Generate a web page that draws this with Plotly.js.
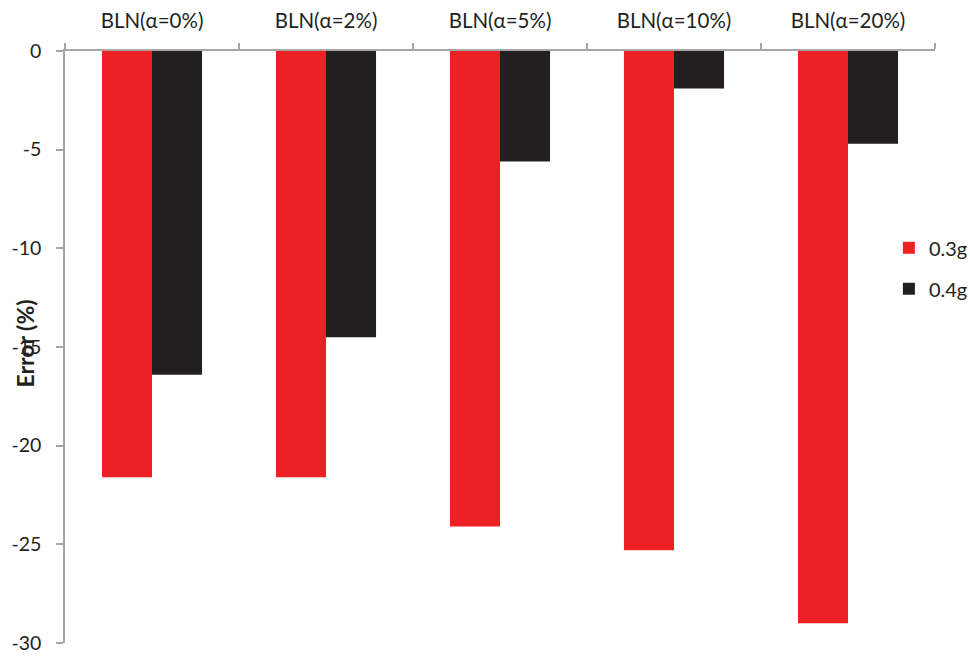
<!DOCTYPE html>
<html><head><meta charset="utf-8">
<script src="https://cdn.plot.ly/plotly-3.0.1.min.js"></script>
<style>html,body{margin:0;padding:0;background:#fff}#c{width:970px;height:657px}</style>
</head><body><div id="c"></div>
<script>
const categories = ["BLN(α=0%)", "BLN(α=2%)", "BLN(α=5%)", "BLN(α=10%)", "BLN(α=20%)"];
const seriesNames = ["0.3g", "0.4g"];
const values03g = [-21.6, -21.6, -24.1, -25.3, -29.0];
const values04g = [-16.4, -14.5, -5.6, -1.9, -4.7];
const yTicks = [0, -5, -10, -15, -20, -25, -30];

const font = {family: "Lato, 'Open Sans', sans-serif", size: 19, color: "#231F20"};
const traces = [
  {type: "bar", x: categories, y: values03g, name: seriesNames[0], marker: {color: "#ED2024"}, legendgroup: "a"},
  {type: "bar", x: categories, y: values04g, name: seriesNames[1], marker: {color: "#231F20"}, legendgroup: "b"}
];
const layout = {
  width: 970, height: 657,
  margin: {l: 65, r: 35, t: 51, b: 14, autoexpand: false},
  paper_bgcolor: "#fff", plot_bgcolor: "#fff",
  font: font,
  barmode: "group", bargap: 0.425, bargroupgap: 0,
  showlegend: true,
  legend: {x: 0.947, y: 0.633, xanchor: "left", yanchor: "middle", font: {size: 20, color: "#231F20"},
           traceorder: "grouped", tracegroupgap: 12, itemwidth: 30, bgcolor: "rgba(0,0,0,0)", borderwidth: 0},
  xaxis: {side: "top", type: "category", showline: true, linecolor: "#A6A6A6", linewidth: 1.5,
          ticks: "outside", tickson: "boundaries", ticklen: 6, tickcolor: "#A6A6A6", tickwidth: 1.5,
          showgrid: false, zeroline: false, ticklabelstandoff: 13, tickfont: {size: 20.5, color: "#231F20"}},
  yaxis: {range: [-30, 0], tickvals: yTicks, ticktext: yTicks.map(String), showline: true,
          linecolor: "#A6A6A6", linewidth: 1.5, ticks: "outside", ticklen: 7, tickcolor: "#A6A6A6", tickwidth: 1.5,
          showgrid: false, zeroline: false, ticklabelstandoff: 11, tickfont: {size: 19.5, color: "#231F20"}},
  annotations: [{text: "<b>Error (%)</b>", xref: "paper", yref: "paper", x: -0.0465, y: 0.505,
                 xanchor: "center", yanchor: "middle", textangle: -90, showarrow: false,
                 font: {size: 23, color: "#231F20"}}]
};
Plotly.newPlot("c", traces, layout, {displayModeBar: false});
</script></body></html>
